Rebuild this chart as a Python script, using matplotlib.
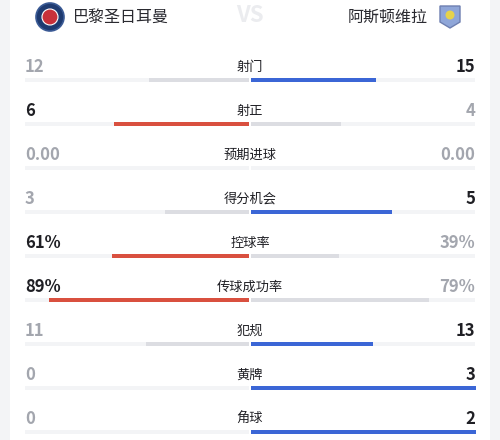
import matplotlib.pyplot as plt
from matplotlib.patches import Circle, FancyBboxPatch, Polygon

plt.rcParams['font.family'] = ['Noto Sans CJK SC', 'DejaVu Sans']

home_team = "巴黎圣日耳曼"
away_team = "阿斯顿维拉"
stat_names = ["射门", "射正", "预期进球", "得分机会", "控球率", "传球成功率", "犯规", "黄牌", "角球"]
home_values = [12, 6, 0.0, 3, 61, 89, 11, 0, 0]
away_values = [15, 4, 0.0, 5, 39, 79, 13, 3, 2]
home_labels = ["12", "6", "0.00", "3", "61%", "89%", "11", "0", "0"]
away_labels = ["15", "4", "0.00", "5", "39%", "79%", "13", "3", "2"]
is_percent = [False, False, False, False, True, True, False, False, False]

RED = "#d9503f"
BLUE = "#3b66d6"
GRAY_BAR = "#dcdde2"
TRACK = "#f3f4f6"
DARK = "#1f1f24"
MUTED = "#a3a6ae"

fig = plt.figure(figsize=(5, 4.4), dpi=100)
fig.patch.set_facecolor("#f3f4f6")
ax = fig.add_axes([0, 0, 1, 1])
ax.set_xlim(0, 500)
ax.set_ylim(440, 0)
ax.axis("off")

# white card
ax.add_patch(FancyBboxPatch((10, -10), 480, 460, boxstyle="round,pad=0,rounding_size=6",
                            fc="white", ec="none", zorder=0))

# header
ax.add_patch(Circle((50, 17), 14, fc="#1e3a70", ec="#3a5a95", lw=1.2, zorder=2))
ax.add_patch(Circle((50, 17), 8, fc="#c8303a", ec="white", lw=0.8, zorder=3))
ax.text(73, 17, home_team, fontsize=11.5, color="#2a2a30", va="center", ha="left")
ax.text(250, 16, "VS", fontsize=16, color="#ebecef", fontweight="bold", style="italic",
        va="center", ha="center")
ax.text(428, 17, away_team, fontsize=11.5, color="#2a2a30", va="center", ha="right")
ax.add_patch(Polygon([(440, 6), (460, 6), (460, 22), (450, 28), (440, 22)],
                     closed=True, fc="#8fa6d8", ec="#6d7fb0", lw=1, zorder=2))
ax.add_patch(Circle((450, 15), 4.5, fc="#e6d24a", ec="none", zorder=3))

half = 225
center = 250
row_y0 = 67
row_gap = 44

for i, name in enumerate(stat_names):
    y = row_y0 + i * row_gap
    by = y + 13
    h = home_values[i]
    a = away_values[i]
    if is_percent[i]:
        hf, af = h / 100, a / 100
    else:
        tot = h + a
        hf = h / tot if tot else 0
        af = a / tot if tot else 0

    # tracks
    ax.barh(by, half - 1, left=center - half, height=4.5, color=TRACK, zorder=1)
    ax.barh(by, half - 1, left=center + 1, height=4.5, color=TRACK, zorder=1)

    home_win = h > a
    away_win = a > h
    ax.barh(by, hf * half, left=center - 1 - hf * half, height=4.5,
            color=RED if home_win else GRAY_BAR, zorder=2)
    ax.barh(by, af * half, left=center + 1, height=4.5,
            color=BLUE if away_win else GRAY_BAR, zorder=2)

    ax.text(center, y, name, fontsize=9.5, fontweight="medium", color=DARK,
            ha="center", va="center")
    ax.text(25, y, home_labels[i], fontsize=12, fontweight="bold",
            color=DARK if home_win else MUTED, ha="left", va="center")
    ax.text(475, y, away_labels[i], fontsize=12, fontweight="bold",
            color=DARK if away_win else MUTED, ha="right", va="center")

fig.savefig("out.png", dpi=100, facecolor=fig.get_facecolor())
